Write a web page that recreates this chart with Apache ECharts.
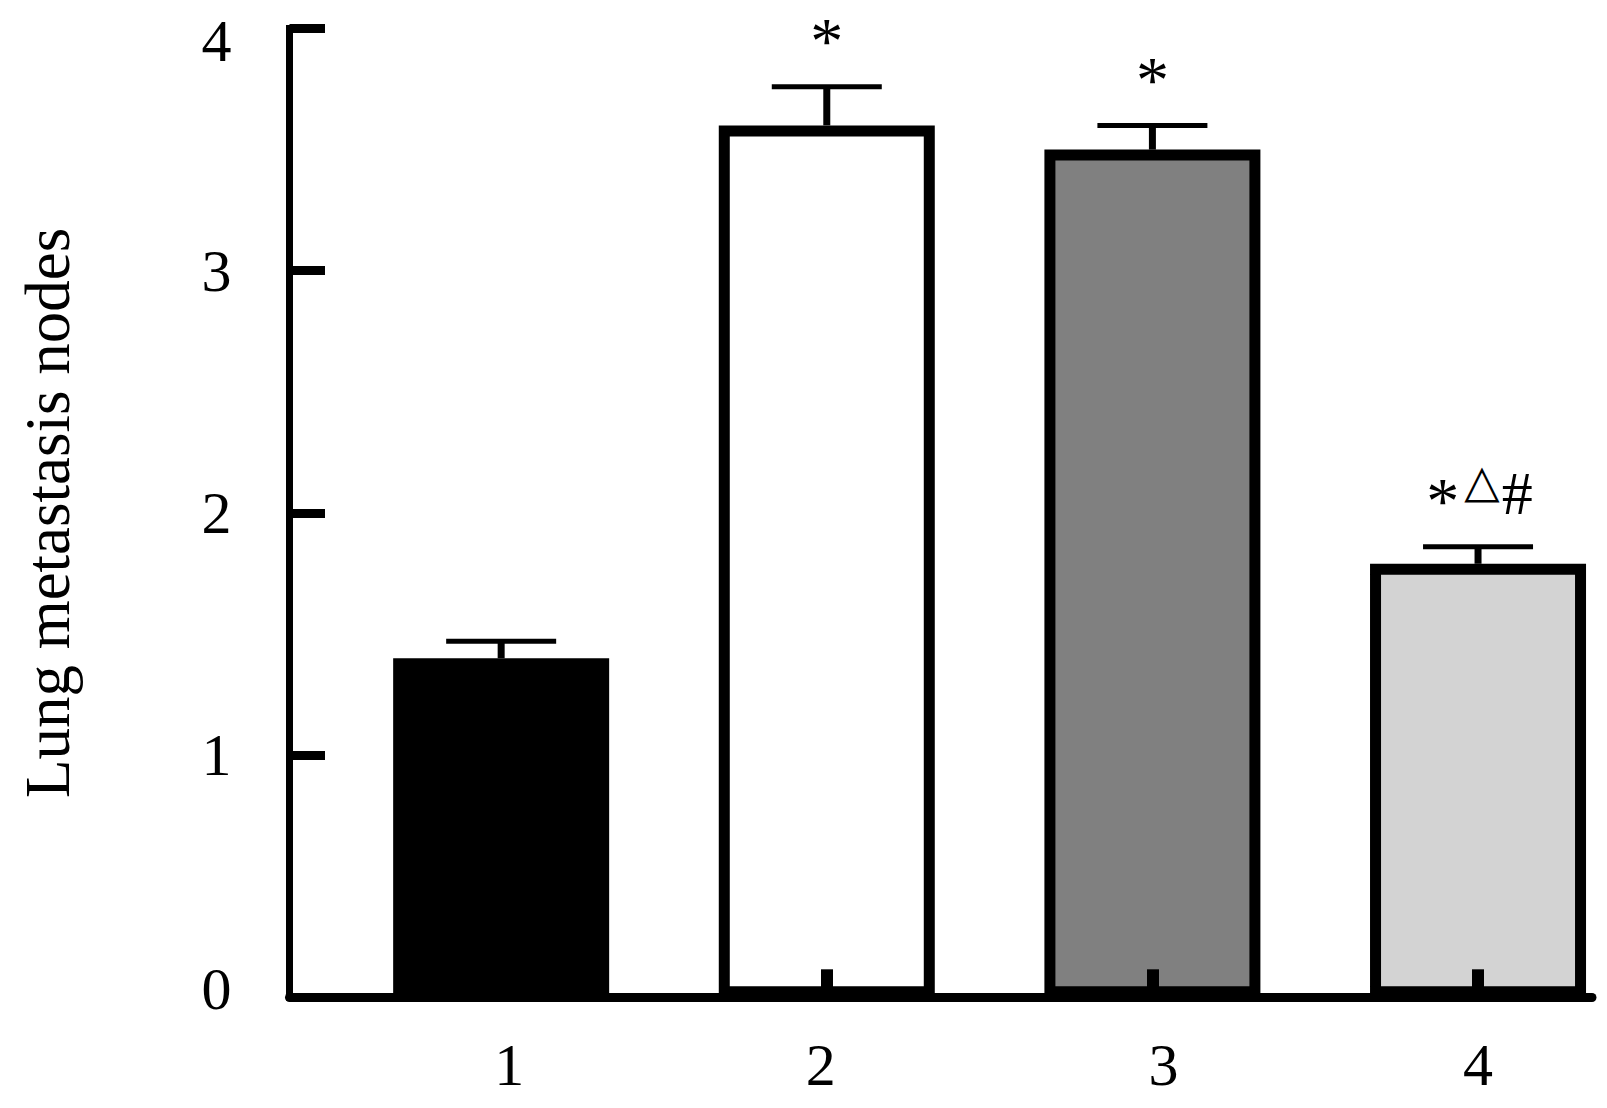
<!DOCTYPE html>
<html><head><meta charset="utf-8">
<script src="https://cdn.jsdelivr.net/npm/echarts@6/dist/echarts.min.js"></script>
<style>html,body{margin:0;padding:0;background:#fff}#c{width:1607px;height:1108px}</style>
</head><body><div id="c"></div>
<script>
// ---- data ----
const groups = ['1', '2', '3', '4'];
const means = [1.40, 3.60, 3.50, 1.79];
const sds = [0.07, 0.16, 0.10, 0.07];
const marks = ['', '*', '*', '*△#'];
const yTicks = [0, 1, 2, 3, 4];
const yName = 'Lung metastasis nodes';

// ---- styles ----
const fills = ['#000000', '#ffffff', '#808080', '#d3d3d3'];
const SERIF = '"Liberation Serif","Times New Roman",serif';
const CAP = 110, MARK_GAP = 50;
const xLabelNudge = [8, -6, 11, 0];
const xs = groups.map((g, i) => i + 1);

function markText(s) {
  return s.split('').map(ch => ch === '△' ? '{tri|△}' : ch === '#' ? '{h|#}' : '{s|' + ch + '}').join('');
}
const xRich = {};
xLabelNudge.forEach((d, i) => {
  xRich['n' + i] = {fontFamily: SERIF, fontSize: 60, color: '#000',
    padding: [0, d < 0 ? -2 * d : 0, 0, d > 0 ? 2 * d : 0]};
});

const chart = echarts.init(document.getElementById('c'), null, {renderer: 'svg', width: 1607, height: 1108});
chart.setOption({
  animation: false,
  backgroundColor: '#fff',
  grid: {left: 289.5, right: 15, top: 28.5, bottom: 110.7, outerBoundsMode: 'none'},
  xAxis: {
    type: 'value', min: 0.35, max: 4.35, z: 5,
    splitLine: {show: false},
    axisLine: {lineStyle: {color: '#000', width: 9}},
    axisTick: {show: true, inside: true, length: 28, lineStyle: {color: '#000', width: 12}, customValues: xs},
    axisLabel: {customValues: xs,
      formatter: v => { const i = Math.round(v) - 1; return groups[i] ? '{n' + i + '|' + groups[i] + '}' : ''; },
      rich: xRich,
      fontFamily: SERIF, fontSize: 60, color: '#000', margin: 38}
  },
  yAxis: {
    type: 'value', min: yTicks[0], max: yTicks[yTicks.length - 1], interval: 1, z: 5,
    splitLine: {show: false},
    axisLine: {show: true, lineStyle: {color: '#000', width: 7, cap: 'square'}},
    axisTick: {show: true, inside: true, length: 35.5, lineStyle: {color: '#000', width: 9}},
    axisLabel: {
      fontFamily: SERIF, fontSize: 60, color: '#000', margin: 58,
      formatter: v => v === 4 ? '{t|' + v + '}' : v === 0 ? '{b|' + v + '}' : String(v),
      rich: {
        t: {fontFamily: SERIF, fontSize: 60, color: '#000', padding: [25, 0, 0, 0]},
        b: {fontFamily: SERIF, fontSize: 60, color: '#000', padding: [0, 0, 17, 0]}
      }
    },
    name: yName, nameLocation: 'middle', nameRotate: 90, nameGap: 210,
    nameTextStyle: {fontFamily: SERIF, fontSize: 63, color: '#000'}
  },
  series: [
    {
      type: 'bar', barWidth: 216, z: 2,
      data: xs.map((x, i) => ({value: [x, means[i]], itemStyle: {color: fills[i]}})),
      itemStyle: {borderColor: '#000', borderWidth: 11}
    },
    {
      type: 'custom', z: 3,
      data: xs.map((x, i) => [x, means[i], sds[i]]),
      renderItem: function (params, api) {
        const i = params.dataIndex;
        const x = api.value(0), m = api.value(1), s = api.value(2);
        const base = api.coord([x, m]);
        const top = api.coord([x, m + s]);
        const children = [
          {type: 'line', shape: {x1: top[0], y1: base[1], x2: top[0], y2: top[1]}, style: {stroke: '#000', lineWidth: 7}},
          {type: 'line', shape: {x1: top[0] - CAP / 2, y1: top[1], x2: top[0] + CAP / 2, y2: top[1]}, style: {stroke: '#000', lineWidth: 5}}
        ];
        if (marks[i]) {
          children.push({type: 'text', x: top[0], y: top[1] - MARK_GAP,
            style: {text: markText(marks[i]), align: 'center', verticalAlign: 'middle',
              fontFamily: SERIF, fontSize: 62, fill: '#000',
              rich: {
                s: {fontFamily: SERIF, fontSize: 66, fill: '#000', verticalAlign: 'middle', padding: [8, 3, 0, 3]},
                tri: {fontFamily: '"DejaVu Sans",sans-serif', fontSize: 46, fill: '#000', verticalAlign: 'middle', padding: [0, 2, 32, 2]},
                h: {fontFamily: SERIF, fontSize: 62, fill: '#000', verticalAlign: 'middle', padding: [0, 0, 8, 0]}
              }}});
        }
        return {type: 'group', children: children};
      }
    }
  ]
});
</script></body></html>
